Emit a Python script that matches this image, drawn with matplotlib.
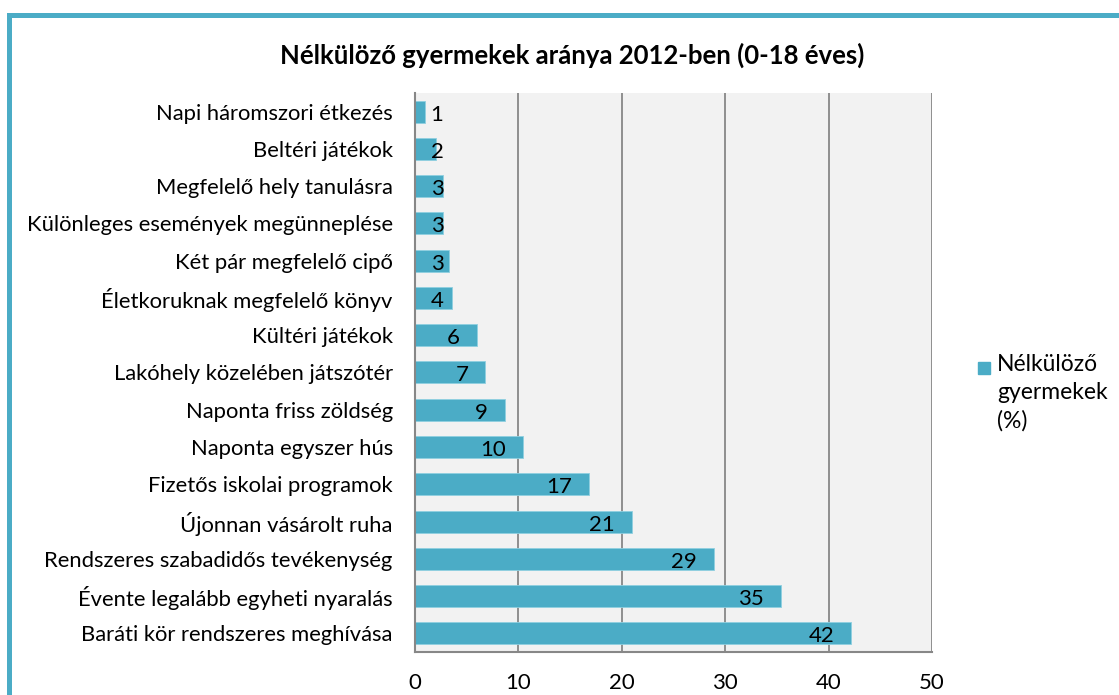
import matplotlib.pyplot as plt
from matplotlib.patches import Rectangle

# Categories (top to bottom) and share of deprived children (%)
categories = [
    "Napi háromszori étkezés",
    "Beltéri játékok",
    "Megfelelő hely tanulásra",
    "Különleges események megünneplése",
    "Két pár megfelelő cipő",
    "Életkoruknak megfelelő könyv",
    "Kültéri játékok",
    "Lakóhely közelében játszótér",
    "Naponta friss zöldség",
    "Naponta egyszer hús",
    "Fizetős iskolai programok",
    "Újonnan vásárolt ruha",
    "Rendszeres szabadidős tevékenység",
    "Évente legalább egyheti nyaralás",
    "Baráti kör rendszeres meghívása",
]
values = [1.0, 2.0, 2.7, 2.7, 3.3, 3.6, 6.0, 6.8, 8.7, 10.4, 16.8, 21.0, 28.9, 35.4, 42.2]
xticks = [0, 10, 20, 30, 40, 50]

teal = "#4bacc6"
plt.rcParams["font.family"] = ["Lato", "DejaVu Sans"]

fig = plt.figure(figsize=(11.19, 6.95), dpi=100)
ax = fig.add_axes([0.3709, 0.0619, 0.462, 0.8043])
ax.set_facecolor("#f2f2f2")

y = range(len(categories))
ax.barh(y, values, height=0.59, color=teal, edgecolor="#8fd0e0", linewidth=0.6, zorder=3)
ax.set_ylim(len(categories) - 0.5, -0.5)
ax.set_xlim(0, 50)
ax.set_xticks(xticks)
ax.set_yticks(list(y))
ax.set_yticklabels(categories)
ax.tick_params(axis="y", length=0, pad=16, labelsize=15.8)
ax.tick_params(axis="x", length=0, pad=15, labelsize=16)

ax.grid(axis="x", color="#878787", linewidth=1.3, zorder=1)
for s in ["top", "right"]:
    ax.spines[s].set_visible(False)
for s in ["left", "bottom"]:
    ax.spines[s].set_color("#878787")
    ax.spines[s].set_linewidth(1.5)
    ax.spines[s].set_zorder(4)

# value labels, inside end (pushed out for very short bars)
for i, v in enumerate(values):
    ax.annotate(f"{round(v):d}", xy=(max(v, 4.4), i), xytext=(-17, -3),
                textcoords="offset pixels", ha="right", va="center",
                fontsize=16, zorder=5)

fig.text(0.511, 0.921, "Nélkülöző gyermekek aránya 2012-ben (0-18 éves)",
         ha="center", va="center", fontsize=18.5, fontweight="bold")

# legend
fig.add_artist(Rectangle((978 / 1119, 1 - 374 / 695), 12 / 1119, 12 / 695,
                         transform=fig.transFigure, color=teal))
fig.text(997 / 1119, 1 - 354 / 695, "Nélkülöző\ngyermekek\n(%)", ha="left", va="top",
         fontsize=16.5, linespacing=1.4)

# teal frame along top and left edges
fig.add_artist(Rectangle((9 / 1119, -0.1), 1.2, 1 - 15 / 695 + 0.1,
                         transform=fig.transFigure, fill=False,
                         edgecolor=teal, linewidth=3.6))

fig.savefig("out.png", dpi=100)
